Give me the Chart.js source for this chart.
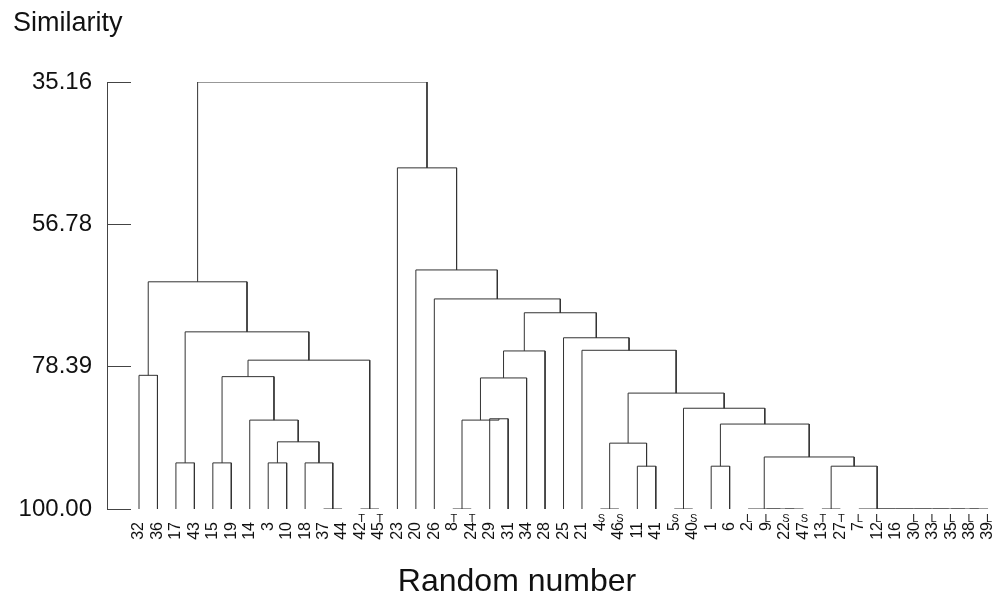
<!DOCTYPE html>
<html>
<head>
<meta charset="utf-8">
<script src="https://cdn.jsdelivr.net/npm/chart.js@4/dist/chart.umd.min.js"></script>
<style>
  html, body { margin: 0; padding: 0; background: #fff; }
  canvas { display: block; }
</style>
</head>
<body>
<canvas id="chart" width="998" height="601"></canvas>
<script>
// leaves in dendrogram order (left to right)
const leaves = ['32','36','17','43','15','19','14','3','10','18','37','44','42','45',
  '23','20','26','8','24','29','31','34','28','25','21','4','46','11','41','5','40',
  '1','6','2','9','22','47','13','27','7','12','16','30','33','35','38','39'];

// small letter written above some of the leaf numbers
const marks = ['','','','','','','','','','','','','T','T',
  '','','','T','T','','','','','','','S','S','','','S','S',
  '','','L','L','S','S','T','T','L','L','','L','L','L','L','L'];

// merges: [left, right, similarity]; strings are leaves, numbers point to an earlier merge
const merges = [
  ['37','44',100], ['18',0,93.0], ['3','10',93.0], [2,1,89.8], ['14',3,86.5],
  ['15','19',93.0], [5,4,79.9], ['42','45',100], [6,7,77.4], ['17','43',93.0],
  [9,8,73.1], ['32','36',79.7], [11,10,65.5],
  ['8','24',100], ['29','31',86.3], [13,14,86.5], [15,'34',80.1], [16,'28',76.0],
  ['4','46',100], ['11','41',93.5], [18,19,90.0], ['5','40',100], ['1','6',93.5],
  ['22','47',100], ['9',23,100], ['2',24,100], ['13','27',100],
  ['38','39',100], ['35',27,100], ['33',28,100], ['30',29,100], ['16',30,100],
  ['12',31,100], ['7',32,100],
  [26,33,93.5], [25,34,92.1], [22,35,87.1], [21,36,84.7], [20,37,82.4],
  ['21',38,75.9], ['25',39,74.0], [17,40,70.2], ['26',41,68.1], ['20',42,63.7],
  ['23',43,48.2], [12,44,35.16]
];

const yTicks = [35.16, 56.78, 78.39, 100.00];

const FONT = 'Arial, "Liberation Sans", sans-serif';

function buildTree() {
  const pos = [];
  const hgt = [];
  const points = [];
  const where = ref => typeof ref === 'string'
    ? [leaves.indexOf(ref), 100]
    : [pos[ref], hgt[ref]];

  merges.forEach(([a, b, h], k) => {
    const [xa, ha] = where(a);
    const [xb, hb] = where(b);
    points.push({x: xa, y: ha}, {x: xa, y: h}, {x: xb, y: h}, {x: xb, y: hb}, {x: xb, y: null});
    pos[k] = (xa + xb) / 2;
    hgt[k] = h;
  });
  return points;
}

// letters next to the leaf numbers
const leafMarks = {
  id: 'leafMarks',
  afterDraw(chart) {
    const {ctx, chartArea, scales: {x}} = chart;
    ctx.save();
    ctx.font = '11px ' + FONT;
    ctx.fillStyle = '#111';
    ctx.textAlign = 'center';
    ctx.textBaseline = 'middle';
    marks.forEach((m, i) => {
      if (m) ctx.fillText(m, x.getPixelForValue(i) + 1, chartArea.bottom + 10);
    });
    ctx.restore();
  }
};

new Chart(document.getElementById('chart'), {
  type: 'line',
  data: {
    datasets: [{
      data: buildTree(),
      borderColor: '#333',
      borderWidth: 1,
      pointRadius: 0,
      tension: 0,
      spanGaps: false
    }]
  },
  options: {
    responsive: false,
    animation: false,
    layout: { padding: { left: 13, right: -23, top: 0, bottom: 0 } },
    plugins: {
      legend: { display: false },
      tooltip: { enabled: false },
      title: {
        display: true,
        text: 'Similarity',
        align: 'start',
        color: '#111',
        font: { family: FONT, size: 27, weight: 'normal' },
        padding: { top: 7, bottom: 42.6 }
      },
      subtitle: {
        display: true,
        position: 'bottom',
        text: 'Random number',
        color: '#111',
        font: { family: FONT, size: 32, weight: 'normal' },
        padding: { top: 0, bottom: 0 }
      }
    },
    scales: {
      x: {
        type: 'linear',
        min: -1.734,
        max: 46.54,
        grid: { display: false, drawTicks: false },
        border: { display: false },
        afterFit: scale => {
          scale.height = 53.6;
          scale.paddingLeft = 0;
          scale.paddingRight = 0;
        },
        afterBuildTicks: scale => { scale.ticks = leaves.map((_, i) => ({value: i})); },
        ticks: {
          autoSkip: false,
          minRotation: 90,
          maxRotation: 90,
          padding: 13,
          color: '#111',
          font: { family: FONT, size: 16 },
          callback: v => leaves[v]
        }
      },
      y: {
        type: 'linear',
        reverse: true,
        min: 35.16,
        max: 100,
        border: { display: true, color: '#444', width: 1 },
        grid: { drawOnChartArea: false, drawTicks: true, tickLength: -24, color: '#444' },
        afterFit: scale => { scale.width = 94; },
        afterBuildTicks: scale => { scale.ticks = yTicks.map(v => ({value: v})); },
        ticks: {
          padding: 39,
          color: '#111',
          font: { family: FONT, size: 24 },
          callback: v => v.toFixed(2)
        }
      }
    }
  },
  plugins: [leafMarks]
});
</script>
</body>
</html>
